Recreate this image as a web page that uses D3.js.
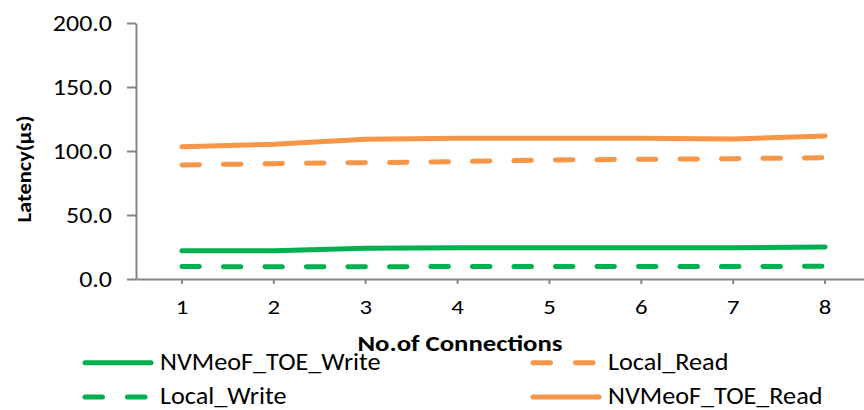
<!DOCTYPE html>
<html>
<head>
<meta charset="utf-8">
<script src="https://cdn.jsdelivr.net/npm/d3@7"></script>
<style>
  html, body { margin: 0; padding: 0; background: #fff; }
  svg { display: block; }
  text { font-family: Calibri, Carlito, Lato, "Open Sans", sans-serif; fill: #000; }
</style>
</head>
<body>
<svg id="chart" width="864" height="410"></svg>
<script>
// Connection counts on the x axis
const connections = ["1", "2", "3", "4", "5", "6", "7", "8"];

// Latency per series, in microseconds
const nvmeofToeWrite = [22.1, 22.1, 24.0, 24.5, 24.5, 24.5, 24.5, 25.0];
const localWrite     = [9.8, 9.5, 9.6, 9.7, 9.7, 9.8, 9.8, 9.9];
const localRead      = [89.1, 90.1, 90.9, 91.7, 93.0, 93.5, 94.0, 94.8];
const nvmeofToeRead  = [103.4, 105.2, 109.1, 109.9, 110.0, 110.0, 109.4, 111.7];

const yTicks = [0, 50, 100, 150, 200];

const seriesNames  = ["NVMeoF_TOE_Write", "Local_Write", "Local_Read", "NVMeoF_TOE_Read"];
const seriesValues = [nvmeofToeWrite, localWrite, localRead, nvmeofToeRead];
const seriesColors = ["#00B050", "#00B050", "#F79646", "#F79646"];
const seriesDashed = [false, true, true, false];

const svg = d3.select("#chart");
const axisColor = "#868686";

// Widen text horizontally about its own x anchor
function stretchText(sel, sx) {
  sel.each(function () {
    const t = d3.select(this);
    const x0 = +t.attr("x") || 0;
    t.attr("transform", `translate(${x0 * (1 - sx)},0) scale(${sx},1)`);
  });
}

const x = d3.scaleBand().domain(connections).range([136, 871]).padding(0);
const y = d3.scaleLinear().domain([0, 200]).range([279, 23]);
const cx = c => x(c) + x.bandwidth() / 2;

// Y axis
const yAxis = svg.append("g")
  .attr("transform", "translate(136,0)")
  .call(d3.axisLeft(y).tickValues(yTicks).tickFormat(d3.format(".1f")).tickSize(9).tickSizeOuter(0).tickPadding(15));
yAxis.selectAll("path, line").attr("stroke", axisColor).attr("stroke-width", 2);
yAxis.selectAll("text").style("font-size", "22px").attr("fill", "#000").call(stretchText, 1.18);

// X axis
const xAxis = svg.append("g")
  .attr("transform", "translate(0,279)")
  .call(d3.axisBottom(x).tickSize(5).tickSizeOuter(0).tickPadding(15));
xAxis.selectAll("path, line").attr("stroke", axisColor).attr("stroke-width", 2);
xAxis.selectAll("text").style("font-size", "21px").attr("fill", "#000").call(stretchText, 1.18);

// Axis titles
svg.append("text")
  .attr("transform", "translate(31,169) rotate(-90) scale(1.07,1)")
  .attr("text-anchor", "middle")
  .style("font-size", "21px").style("font-weight", "bold")
  .text("Latency(µs)");

svg.append("text")
  .attr("x", 460).attr("y", 351)
  .attr("text-anchor", "middle")
  .style("font-size", "22.3px").style("font-weight", "bold")
  .text("No.of Connections")
  .call(stretchText, 1.2);

// Series lines
const line = d3.line()
  .x((d, i) => cx(connections[i]))
  .y(d => y(d));

seriesValues.forEach((vals, i) => {
  svg.append("path")
    .datum(vals)
    .attr("d", line)
    .attr("fill", "none")
    .attr("stroke", seriesColors[i])
    .attr("stroke-width", 5)
    .attr("stroke-linecap", "round")
    .attr("stroke-linejoin", "round")
    .attr("stroke-dasharray", seriesDashed[i] ? "17.5,24" : null);
});

// Legend, two columns by two rows
const legendPos = [
  { x: 85,  y: 362.7 },
  { x: 85,  y: 397 },
  { x: 533, y: 362.7 },
  { x: 533, y: 397 }
];
seriesNames.forEach((name, i) => {
  const p = legendPos[i];
  svg.append("line")
    .attr("x1", p.x).attr("x2", p.x + 66)
    .attr("y1", p.y).attr("y2", p.y)
    .attr("stroke", seriesColors[i])
    .attr("stroke-width", 5)
    .attr("stroke-linecap", "round")
    .attr("stroke-dasharray", seriesDashed[i] ? "17.5,25" : null);
  svg.append("text")
    .attr("x", p.x + 75).attr("y", p.y + 7.5)
    .style("font-size", "24.5px")
    .text(name)
    .call(stretchText, 1.07);
});
</script>
</body>
</html>
